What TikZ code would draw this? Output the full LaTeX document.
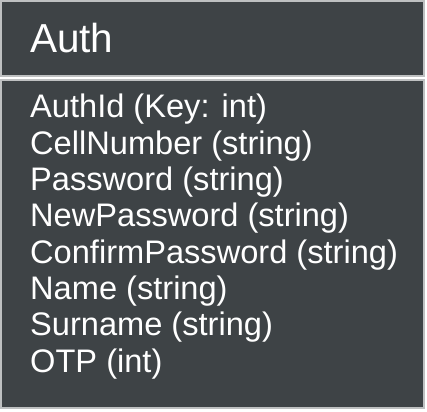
\documentclass[tikz,border=0pt]{standalone}
\usepackage{fontspec}
\setmainfont{Liberation Sans}
\usetikzlibrary{positioning}
\definecolor{authbg}{RGB}{62,67,70}
\definecolor{authedge}{RGB}{190,192,193}

\begin{document}
\begin{tikzpicture}[
        x=1pt, y=-1pt,
        panel/.style={
            draw=authedge,
            fill=authbg,
            line width=1.2pt
        },
        title/.style={
            anchor=base west,
            inner sep=0pt,
            text=white,
            font=\fontsize{40.5}{44}\selectfont
        },
        field/.style={
            anchor=base west,
            inner sep=0pt,
            text=white,
            font=\fontsize{32.6}{36}\selectfont
        }
    ]

        \useasboundingbox[fill=white] (0, 0) rectangle (427, 411);

        % Header and body panels
        \draw[panel] (1, 1) rectangle (424, 76);
        \draw[panel] (1, 80) rectangle (424, 408);

        % Class name
        \node[title] (name) at (30, 53) {Auth};

        % Attributes
        \foreach \txt [count=\i from 0] in {
            AuthId (Key: int),
            CellNumber (string),
            Password (string),
            NewPassword (string),
            ConfirmPassword (string),
            Name (string),
            Surname (string),
            OTP (int)} {
            \node[field] (f\i) at (30, 118 + 36.3*\i) {\txt};
        }

    \end{tikzpicture}
\end{document}
